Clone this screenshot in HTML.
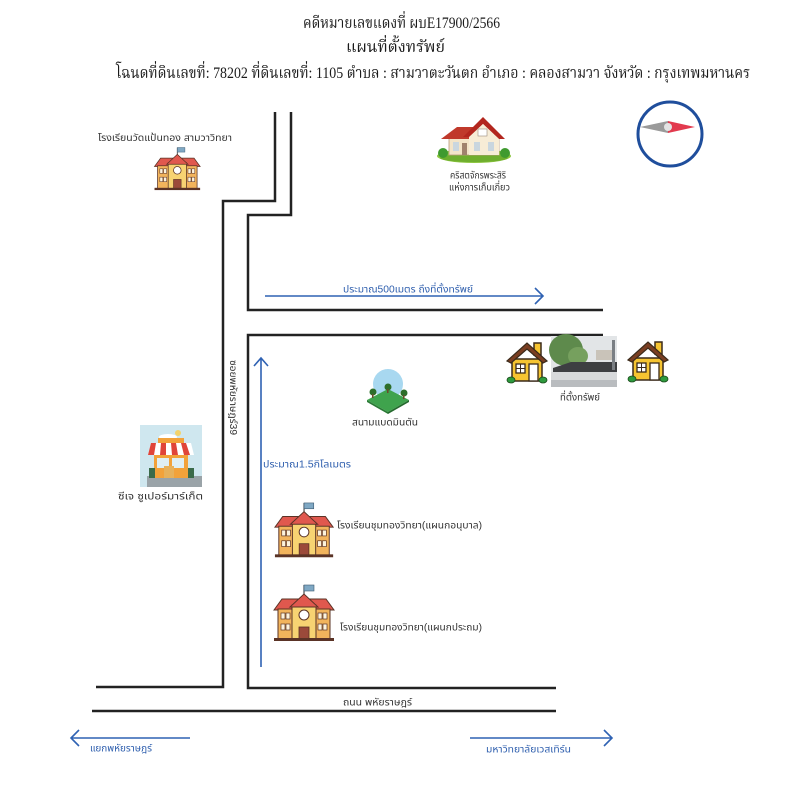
<!DOCTYPE html>
<html><head><meta charset="utf-8"><style>
html,body{margin:0;padding:0;background:#fff;}
svg{display:block;}
.t{font-family:"Liberation Serif","Noto Serif Thai","Noto Sans Thai","Norasi","Loma","Garuda","DejaVu Serif",serif;fill:#1a1a1a;}
.l{font-family:"Liberation Sans","Noto Sans Thai","Loma","Garuda","Tlwg Typo","DejaVu Sans",sans-serif;fill:#333;font-size:10px;}
.b{fill:#2f5fae;}
</style></head><body>
<svg width="800" height="800" viewBox="0 0 800 800" xmlns="http://www.w3.org/2000/svg">
<defs>
<g id="school">
  <line x1="32" y1="2" x2="32" y2="16" stroke="#4a4a4a" stroke-width="1.2"/>
  <rect x="32" y="2" width="10" height="6" fill="#7fa8c4" stroke="#3d5a70" stroke-width="0.6"/>
  <polygon points="2,27 10,16 54,16 62,27" fill="#e0584e" stroke="#5a3326" stroke-width="1"/>
  <rect x="6" y="26" width="52" height="30" fill="#f2b45c" stroke="#5a3326" stroke-width="1"/>
  <rect x="20" y="22" width="24" height="34" fill="#f7d372" stroke="#5a3326" stroke-width="1"/>
  <polygon points="18,24 32,11 46,24" fill="#e0584e" stroke="#5a3326" stroke-width="1"/>
  <circle cx="32" cy="32" r="5" fill="#fff" stroke="#5a3326" stroke-width="1"/>
  <rect x="27" y="44" width="10" height="12" fill="#9b4a3a" stroke="#5a3326" stroke-width="0.8"/>
  <g fill="#fdf3dc" stroke="#5a3326" stroke-width="0.7">
    <rect x="9" y="30" width="4" height="6"/><rect x="14" y="30" width="4" height="6"/>
    <rect x="9" y="41" width="4" height="6"/><rect x="14" y="41" width="4" height="6"/>
    <rect x="46" y="30" width="4" height="6"/><rect x="51" y="30" width="4" height="6"/>
    <rect x="46" y="41" width="4" height="6"/><rect x="51" y="41" width="4" height="6"/>
  </g>
  <rect x="2" y="55" width="60" height="3" fill="#5a3326"/>
</g>
<g id="yhouse">
  <rect x="28" y="4" width="7" height="12" fill="#f6c431" stroke="#3a2a1a" stroke-width="1.5"/>
  <rect x="6" y="20" width="30" height="22" fill="#f6c431" stroke="#3a2a1a" stroke-width="1.5"/>
  <polygon points="1,22 21,4 41,22 37,24 21,10 5,24" fill="#7a3e22" stroke="#3a2a1a" stroke-width="1.2"/>
  <rect x="10" y="25" width="9" height="9" fill="#fff" stroke="#3a2a1a" stroke-width="1.3"/>
  <line x1="14.5" y1="25" x2="14.5" y2="34" stroke="#3a2a1a" stroke-width="1"/>
  <line x1="10" y1="29.5" x2="19" y2="29.5" stroke="#3a2a1a" stroke-width="1"/>
  <rect x="23" y="25" width="9" height="17" fill="#fff" stroke="#3a2a1a" stroke-width="1.3"/>
  <ellipse cx="5" cy="41" rx="4" ry="3" fill="#2e9a3e" stroke="#1a4a1a" stroke-width="0.8"/>
  <ellipse cx="37" cy="41" rx="4" ry="3" fill="#2e9a3e" stroke="#1a4a1a" stroke-width="0.8"/>
</g>
</defs>

<!-- Title -->
<text class="t" x="303" y="28" font-size="16" textLength="197" lengthAdjust="spacingAndGlyphs">คดีหมายเลขแดงที่ ผบE17900/2566</text>
<text class="t" x="346" y="52" font-size="16" textLength="99" lengthAdjust="spacingAndGlyphs">แผนที่ตั้งทรัพย์</text>
<text class="t" x="116" y="78" font-size="16" textLength="634" lengthAdjust="spacingAndGlyphs">โฉนดที่ดินเลขที่: 78202 ที่ดินเลขที่: 1105 ตำบล : สามวาตะวันตก อำเภอ : คลองสามวา จังหวัด : กรุงเทพมหานคร</text>

<!-- Compass -->
<circle cx="670" cy="134" r="32" fill="#fff" stroke="#1f4e9c" stroke-width="3"/>
<polygon points="640,127 668,121 668,133" fill="#9a9a9a"/>
<polygon points="668,121 695,127 668,133" fill="#e23a4e"/>
<circle cx="668" cy="127" r="4" fill="#e4e4e4"/>

<!-- Roads -->
<g fill="none" stroke="#222" stroke-width="2.5">
  <path d="M275,112 V201 H223 V687 H96"/>
  <path d="M291,112 V215 H248 V310 H603"/>
  <path d="M603,335 H248 V688 H556"/>
  <path d="M92,711 H556"/>
</g>

<!-- Blue arrows -->
<g fill="none" stroke="#2f62b3" stroke-width="1.6">
  <path d="M265,296 H543 M535,288 L543,296 L535,304"/>
  <path d="M261,667 V358 M254,366 L261,358 L268,366"/>
  <path d="M71,738 H190 M79,730 L71,738 L79,746"/>
  <path d="M470,738 H612 M604,730 L612,738 L604,746"/>
</g>

<!-- Top-left school -->
<text class="l" x="98" y="141" textLength="134" lengthAdjust="spacingAndGlyphs">โรงเรียนวัดแป้นทอง สามวาวิทยา</text>
<use href="#school" transform="translate(153,146) scale(0.76)"/>

<!-- Church house -->
<g transform="translate(437,115)">
  <ellipse cx="37" cy="41" rx="37" ry="7" fill="#8cc63f"/>
  <ellipse cx="37" cy="43" rx="34" ry="4" fill="#6fae2e"/>
  <circle cx="6" cy="38" r="5" fill="#3f9a2f"/>
  <circle cx="68" cy="38" r="5" fill="#3f9a2f"/>
  <rect x="12" y="20" width="50" height="20" fill="#f3e4c8" stroke="#b89a7a" stroke-width="0.8"/>
  <polygon points="4,24 20,12 40,12 40,24" fill="#c0392b"/>
  <polygon points="26,22 46,2 68,24 62,24 46,9 32,22" fill="#b3261e"/>
  <polygon points="32,22 46,9 62,24 62,40 32,40" fill="#f7ecd6"/>
  <rect x="41" y="14" width="9" height="7" fill="#fff" stroke="#9a8a7a" stroke-width="0.6"/>
  <rect x="37" y="27" width="6" height="9" fill="#c9d6df"/>
  <rect x="51" y="27" width="6" height="9" fill="#c9d6df"/>
  <rect x="16" y="27" width="6" height="9" fill="#c9d6df"/>
  <rect x="25" y="28" width="5" height="12" fill="#a0826d"/>
</g>
<text class="l" x="450" y="178.5" textLength="56" lengthAdjust="spacingAndGlyphs">คริสตจักรพระสิริ</text>
<text class="l" x="449" y="190.5" textLength="61" lengthAdjust="spacingAndGlyphs">แห่งการเก็บเกี่ยว</text>

<!-- 500m label -->
<text class="l b" x="343" y="292.5" textLength="130" lengthAdjust="spacingAndGlyphs">ประมาณ500เมตร ถึงที่ตั้งทรัพย์</text>

<!-- Property houses and photo -->
<use href="#yhouse" transform="translate(506,339)"/>
<use href="#yhouse" transform="translate(627,338)"/>
<g>
  <rect x="551" y="336" width="66" height="51" fill="#e2e5e7"/>
  <ellipse cx="566" cy="350" rx="17" ry="16" fill="#5e8a4c"/>
  <ellipse cx="578" cy="356" rx="10" ry="9" fill="#76a05e"/>
  <rect x="596" y="350" width="18" height="10" fill="#c9c3b9"/>
  <polygon points="553,368 571,362 617,362 617,372 553,372" fill="#3d3f42"/>
  <rect x="551" y="372" width="66" height="15" fill="#d7d9db"/>
  <rect x="551" y="380" width="66" height="7" fill="#b9bcbf"/>
  <rect x="612" y="340" width="3" height="30" fill="#7a7f84"/>
</g>
<text class="l" x="560" y="400.5" textLength="40" lengthAdjust="spacingAndGlyphs">ที่ตั้งทรัพย์</text>

<!-- Soi label rotated -->
<text class="l" transform="translate(230,360) rotate(90)" x="0" y="0" textLength="75" lengthAdjust="spacingAndGlyphs">ซอยพหัยราษฎร์39</text>

<!-- Badminton field icon -->
<g>
  <circle cx="388" cy="384" r="15" fill="#a8d8f0"/>
  <polygon points="367,400 388,389 409,400 388,412" fill="#3fa34d"/>
  <polygon points="367,400 388,412 388,414 367,402" fill="#2a7a35"/>
  <polygon points="388,412 409,400 409,402 388,414" fill="#24692d"/>
  <circle cx="373" cy="392" r="3.5" fill="#2d6e2a"/>
  <circle cx="388" cy="387" r="3.5" fill="#2d6e2a"/>
  <circle cx="404" cy="393" r="3.5" fill="#2d6e2a"/>
  <rect x="372" y="394" width="1.5" height="4" fill="#6b4a2a"/>
  <rect x="387" y="389" width="1.5" height="4" fill="#6b4a2a"/>
  <rect x="403" y="395" width="1.5" height="4" fill="#6b4a2a"/>
</g>
<text class="l" x="352" y="425.5" textLength="66" lengthAdjust="spacingAndGlyphs">สนามแบดมินตัน</text>

<!-- 1.5km label -->
<text class="l b" x="263" y="467.5" textLength="88" lengthAdjust="spacingAndGlyphs">ประมาณ1.5กิโลเมตร</text>

<!-- Shop icon -->
<g>
  <rect x="140" y="425" width="62" height="62" fill="#cfe7ef"/>
  <ellipse cx="168" cy="437" rx="9" ry="3" fill="#fff"/>
  <circle cx="178" cy="433" r="3" fill="#f3d36b"/>
  <rect x="147" y="476" width="55" height="11" fill="#9aa3a8"/>
  <rect x="154" y="447" width="34" height="31" fill="#f2a23a"/>
  <rect x="157" y="458" width="12" height="10" fill="#dfeff4"/>
  <rect x="172" y="458" width="12" height="10" fill="#dfeff4"/>
  <rect x="164" y="466" width="10" height="12" fill="#e7b15a"/>
  <polygon points="151,443 191,443 194,455 148,455" fill="#fff"/>
  <g fill="#e0453a">
    <polygon points="151,443 156,443 154,455 148,455"/>
    <polygon points="161,443 166,443 166,455 160,455"/>
    <polygon points="171,443 176,443 178,455 172,455"/>
    <polygon points="181,443 186,443 190,455 184,455"/>
  </g>
  <rect x="158" y="438" width="26" height="5" fill="#f2a23a"/>
  <rect x="149" y="468" width="6" height="10" fill="#3b6b4a"/>
  <rect x="188" y="468" width="6" height="10" fill="#3b6b4a"/>
</g>
<text class="l" x="118" y="499.5" textLength="85" lengthAdjust="spacingAndGlyphs">ซีเจ ซูเปอร์มาร์เก็ต</text>

<!-- Schools on inner road -->
<use href="#school" transform="translate(273,501) scale(0.97)"/>
<text class="l" x="337" y="528.5" textLength="145" lengthAdjust="spacingAndGlyphs">โรงเรียนชุมทองวิทยา(แผนกอนุบาล)</text>
<use href="#school" transform="translate(272,583) scale(1.0)"/>
<text class="l" x="340" y="630.5" textLength="142" lengthAdjust="spacingAndGlyphs">โรงเรียนชุมทองวิทยา(แผนกประถม)</text>

<!-- Bottom labels -->
<text class="l" x="343" y="705.5" textLength="69" lengthAdjust="spacingAndGlyphs">ถนน พหัยราษฎร์</text>
<text class="l b" x="90" y="751.5" textLength="62" lengthAdjust="spacingAndGlyphs">แยกพหัยราษฎร์</text>
<text class="l b" x="486" y="752.5" textLength="85" lengthAdjust="spacingAndGlyphs">มหาวิทยาลัยเวสเทิร์น</text>
</svg>
</body></html>
